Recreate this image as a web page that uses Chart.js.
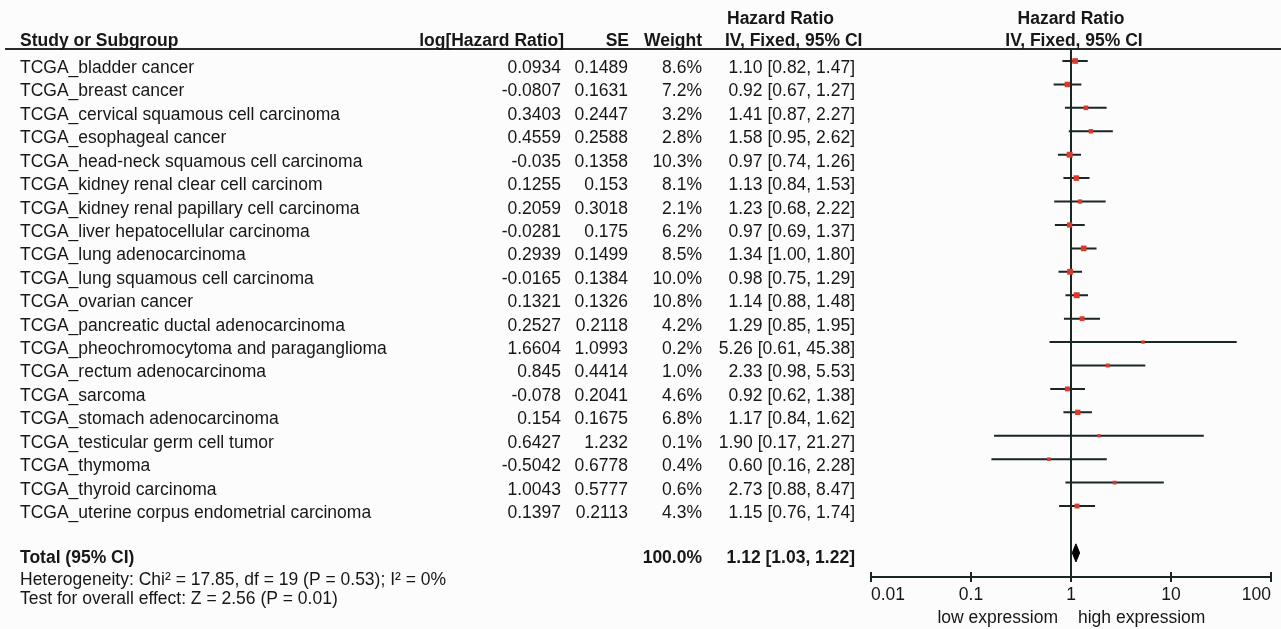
<!DOCTYPE html>
<html>
<head>
<meta charset="utf-8">
<script src="https://cdn.jsdelivr.net/npm/chart.js@4.4.1/dist/chart.umd.min.js"></script>
<style>
  html, body { margin: 0; padding: 0; background: #fcfcfd; }
  canvas { display: block; }
</style>
</head>
<body>
<canvas id="forest" width="1281" height="629"></canvas>
<script>
// Study rows
const studies = [
  'TCGA_bladder cancer',
  'TCGA_breast cancer',
  'TCGA_cervical squamous cell carcinoma',
  'TCGA_esophageal cancer',
  'TCGA_head-neck squamous cell carcinoma',
  'TCGA_kidney renal clear cell carcinom',
  'TCGA_kidney renal papillary cell carcinoma',
  'TCGA_liver hepatocellular carcinoma',
  'TCGA_lung adenocarcinoma',
  'TCGA_lung squamous cell carcinoma',
  'TCGA_ovarian cancer',
  'TCGA_pancreatic ductal adenocarcinoma',
  'TCGA_pheochromocytoma and paraganglioma',
  'TCGA_rectum adenocarcinoma',
  'TCGA_sarcoma',
  'TCGA_stomach adenocarcinoma',
  'TCGA_testicular germ cell tumor',
  'TCGA_thymoma',
  'TCGA_thyroid carcinoma',
  'TCGA_uterine corpus endometrial carcinoma'
];
const logHR = [0.0934, -0.0807, 0.3403, 0.4559, -0.035, 0.1255, 0.2059, -0.0281, 0.2939, -0.0165,
               0.1321, 0.2527, 1.6604, 0.845, -0.078, 0.154, 0.6427, -0.5042, 1.0043, 0.1397];
const se = [0.1489, 0.1631, 0.2447, 0.2588, 0.1358, 0.153, 0.3018, 0.175, 0.1499, 0.1384,
            0.1326, 0.2118, 1.0993, 0.4414, 0.2041, 0.1675, 1.232, 0.6778, 0.5777, 0.2113];
const weights = [8.6, 7.2, 3.2, 2.8, 10.3, 8.1, 2.1, 6.2, 8.5, 10.0,
                 10.8, 4.2, 0.2, 1.0, 4.6, 6.8, 0.1, 0.4, 0.6, 4.3];
const hr = [1.10, 0.92, 1.41, 1.58, 0.97, 1.13, 1.23, 0.97, 1.34, 0.98,
            1.14, 1.29, 5.26, 2.33, 0.92, 1.17, 1.90, 0.60, 2.73, 1.15];
const ciLow = [0.82, 0.67, 0.87, 0.95, 0.74, 0.84, 0.68, 0.69, 1.00, 0.75,
               0.88, 0.85, 0.61, 0.98, 0.62, 0.84, 0.17, 0.16, 0.88, 0.76];
const ciHigh = [1.47, 1.27, 2.27, 2.62, 1.26, 1.53, 2.22, 1.37, 1.80, 1.29,
                1.48, 1.95, 45.38, 5.53, 1.38, 1.62, 21.27, 2.28, 8.47, 1.74];

// Pooled estimate (fixed effect)
const totalWeight = 100.0;
const totalHR = [1.12, 1.03, 1.22];   // estimate, lower, upper
const heterogeneityText = 'Heterogeneity: Chi\u00B2 = 17.85, df = 19 (P = 0.53); I\u00B2 = 0%';
const overallEffectText = 'Test for overall effect: Z = 2.56 (P = 0.01)';

// Axis
const axisTicks = [0.01, 0.1, 1, 10, 100];
const tickLabels = ['0.01', '0.1', '1', '10', '100'];
const favoursLeft = 'low expressiom';
const favoursRight = 'high expressiom';

const FONT = "'Liberation Sans', Arial, Helvetica, sans-serif";
const FS = 17.5;
const INK = '#151718';
const LINE = '#1a2526';
const RED = 'rgb(220,58,40)';
const TOTAL_ROW = studies.length + 1;

const ciData = [];
studies.forEach((s, i) => {
  ciData.push({ x: ciLow[i], y: i }, { x: ciHigh[i], y: i }, { x: ciHigh[i], y: null });
});
const pointData = studies.map((s, i) => ({ x: hr[i], y: i }));
const DIAMOND_H = 0.385;
const diamondData = [
  { x: totalHR[1], y: TOTAL_ROW },
  { x: totalHR[0], y: TOTAL_ROW - DIAMOND_H },
  { x: totalHR[2], y: TOTAL_ROW },
  { x: totalHR[0], y: TOTAL_ROW + DIAMOND_H },
  { x: totalHR[1], y: TOTAL_ROW }
];

const tablePlugin = {
  id: 'forestTable',
  beforeDraw(chart) {
    const { ctx, width, height } = chart;
    ctx.save();
    ctx.fillStyle = '#fcfcfd';
    ctx.fillRect(0, 0, width, height);
    ctx.restore();
  },
  beforeDatasetsDraw(chart) {
    const { ctx, chartArea, scales } = chart;
    const x1 = scales.x.getPixelForValue(1);
    ctx.save();
    ctx.strokeStyle = LINE;
    ctx.lineWidth = 2;
    ctx.beginPath();
    ctx.moveTo(x1, chartArea.top);
    ctx.lineTo(x1, chartArea.bottom);
    ctx.stroke();
    ctx.restore();
  },
  afterDraw(chart) {
    const { ctx, chartArea, scales } = chart;
    const y = scales.y, x = scales.x;
    ctx.save();

    // header rule
    ctx.strokeStyle = '#262b2c';
    ctx.lineWidth = 2;
    ctx.beginPath();
    ctx.moveTo(5, chartArea.top + 1);
    ctx.lineTo(chart.width, chartArea.top + 1);
    ctx.stroke();

    // upper halves of axis ticks
    ctx.strokeStyle = LINE;
    axisTicks.forEach(v => {
      const px = x.getPixelForValue(v);
      ctx.beginPath();
      ctx.moveTo(px, chartArea.bottom - 5);
      ctx.lineTo(px, chartArea.bottom);
      ctx.stroke();
    });

    ctx.fillStyle = INK;
    ctx.textBaseline = 'alphabetic';

    // column headers
    ctx.font = `bold ${FS}px ${FONT}`;
    ctx.textAlign = 'left';
    ctx.fillText('Study or Subgroup', 20, 46);
    ctx.fillText('Hazard Ratio', 727, 24);
    ctx.fillText('IV, Fixed, 95% CI', 725, 46);
    ctx.textAlign = 'right';
    ctx.fillText('log[Hazard Ratio]', 564, 46);
    ctx.fillText('SE', 629, 46);
    ctx.fillText('Weight', 702, 46);
    ctx.textAlign = 'center';
    const xc = x.getPixelForValue(1);
    ctx.fillText('Hazard Ratio', xc, 24);
    ctx.fillText('IV, Fixed, 95% CI', xc + 3, 46);

    // study rows
    ctx.font = `${FS}px ${FONT}`;
    studies.forEach((s, i) => {
      const by = y.getPixelForValue(i) + 12;
      ctx.textAlign = 'left';
      ctx.fillText(s, 20, by);
      ctx.textAlign = 'right';
      ctx.fillText(String(logHR[i]), 561, by);
      ctx.fillText(String(se[i]), 628, by);
      ctx.fillText(weights[i].toFixed(1) + '%', 702, by);
      ctx.fillText(`${hr[i].toFixed(2)} [${ciLow[i].toFixed(2)}, ${ciHigh[i].toFixed(2)}]`, 855, by);
    });

    // total row
    const ty = y.getPixelForValue(TOTAL_ROW) + 10;
    ctx.font = `bold ${FS}px ${FONT}`;
    ctx.textAlign = 'left';
    ctx.fillText('Total (95% CI)', 20, ty);
    ctx.textAlign = 'right';
    ctx.fillText(totalWeight.toFixed(1) + '%', 702, ty);
    ctx.fillText(`${totalHR[0].toFixed(2)} [${totalHR[1].toFixed(2)}, ${totalHR[2].toFixed(2)}]`, 855, ty);

    ctx.font = `${FS}px ${FONT}`;
    ctx.textAlign = 'left';
    ctx.fillText(heterogeneityText, 20, ty + 22);
    ctx.fillText(overallEffectText, 20, ty + 41);

    // favours labels under the axis
    ctx.textAlign = 'right';
    ctx.fillText(favoursLeft, xc - 13, 623);
    ctx.textAlign = 'left';
    ctx.fillText(favoursRight, xc + 7, 623);

    ctx.restore();
  }
};

new Chart(document.getElementById('forest'), {
  type: 'scatter',
  data: {
    datasets: [
      {
        label: 'Hazard ratio',
        data: pointData,
        order: 0,
        pointStyle: 'rect',
        pointRadius: weights.map(w => (3 + 0.9 * Math.sqrt(w)) / Math.SQRT2),
        backgroundColor: RED,
        borderWidth: 0,
        showLine: false
      },
      {
        label: '95% CI',
        data: ciData,
        order: 1,
        showLine: true,
        spanGaps: false,
        borderColor: LINE,
        borderWidth: 2,
        pointRadius: 0,
        tension: 0
      },
      {
        label: 'Total',
        data: diamondData,
        order: 2,
        showLine: true,
        fill: 'shape',
        backgroundColor: '#000',
        borderColor: '#000',
        borderWidth: 1,
        pointRadius: 0,
        tension: 0
      }
    ]
  },
  options: {
    responsive: false,
    animation: false,
    events: [],
    layout: { padding: { left: 871, right: 10, top: 48, bottom: 0 } },
    plugins: { legend: { display: false }, tooltip: { enabled: false } },
    scales: {
      x: {
        type: 'logarithmic',
        position: 'bottom',
        min: 0.01,
        max: 100,
        afterBuildTicks(scale) {
          scale.ticks = axisTicks.map(v => ({ value: v }));
        },
        afterFit(scale) { scale.height = 52; },
        border: { display: true, color: LINE, width: 2 },
        grid: { display: true, drawOnChartArea: false, drawTicks: true, tickLength: 5, color: LINE, lineWidth: 2 },
        ticks: {
          align: 'inner',
          padding: 3,
          color: INK,
          font: { family: FONT, size: FS },
          autoSkip: false,
          maxRotation: 0,
          callback: (v) => tickLabels[axisTicks.indexOf(v)] ?? ''
        }
      },
      y: {
        type: 'linear',
        display: false,
        reverse: true,
        min: -0.555,
        max: 22.03
      }
    }
  },
  plugins: [tablePlugin]
});
</script>
</body>
</html>
